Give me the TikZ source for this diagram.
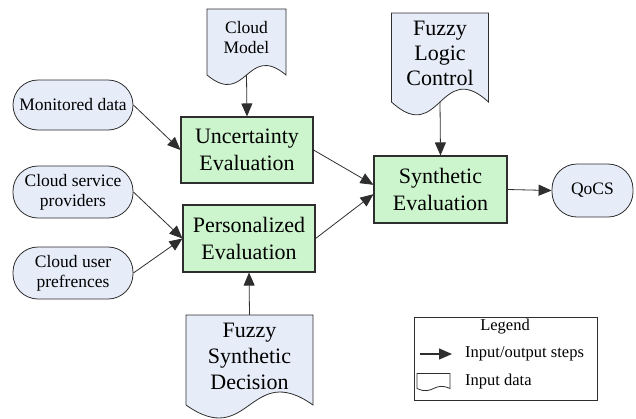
\documentclass[tikz,border=0pt]{standalone}
\usepackage{fontspec}
\setmainfont{Liberation Serif}
\usetikzlibrary{arrows.meta, positioning, calc}
\definecolor{procgreen}{HTML}{CDF5CD}
\definecolor{datablue}{HTML}{E6ECF8}
\definecolor{edgegray}{HTML}{2E2E2E}

% document shape: [shape options] name, x, y (centre of the body), width, height, font, text
\newcommand{\docnode}[8][]{%
  \pgfmathsetmacro{\dcl}{#3-#5/2}\pgfmathsetmacro{\dcr}{#3+#5/2}%
  \pgfmathsetmacro{\dct}{#4-#6/2}\pgfmathsetmacro{\dcb}{#4+#6/2}%
  \pgfmathsetmacro{\dcw}{0.5*#6}%
  \filldraw[docshape, #1] (\dcl,\dcb) -- (\dcl,\dct) -- (\dcr,\dct) -- (\dcr,\dcb)
    .. controls (#3,\dcb-\dcw) and (#3,\dcb+\dcw) .. cycle;
  \node[doctext, minimum width=#5, minimum height=#6] (#2) at (#3,#4) {};
  \node[doctext, font=#7] (#2t) at (#3,#4-4) {#8};
}

\begin{document}
\begin{tikzpicture}[x=1pt, y=-1pt,
  >={Triangle[length=13pt, width=11pt]},
  flow/.style={->, edgegray, line width=0.8pt},
  proc/.style={draw=edgegray, fill=procgreen, line width=1.1pt, align=center,
    font=\fontsize{22}{27}\selectfont, inner sep=0pt},
  term/.style={draw=edgegray, fill=datablue, line width=0.8pt, align=center,
    font=\fontsize{17.5}{20}\selectfont, inner sep=0pt, rounded corners=25pt},
  docshape/.style={draw=edgegray, fill=datablue, line width=0.8pt},
  doctext/.style={align=center, inner sep=0pt}]

\useasboundingbox (0,0) rectangle (636,418);

% =========== INPUT DATA ===========
\node[term, minimum width=120, minimum height=50] (mon) at (73,105) {Monitored data};
\node[term, minimum width=120, minimum height=52] (csp) at (73,192) {Cloud service\\providers};
\node[term, minimum width=120, minimum height=52] (cup) at (73,273) {Cloud user\\prefrences};

\docnode{cm}{246.5}{42}{79}{66}{\fontsize{17.5}{20}\selectfont}{Cloud\\Model}
\docnode{flc}{440}{57.5}{97}{89}{\fontsize{22}{25}\selectfont}{Fuzzy\\Logic\\Control}
\docnode{fsd}{249.5}{360}{127}{90}{\fontsize{22}{26}\selectfont}{Fuzzy\\Synthetic\\Decision}

% =========== EVALUATION STEPS ===========
\node[proc, minimum width=132, minimum height=66] (ue) at (247,150) {Uncertainty\\Evaluation};
\node[proc, minimum width=132, minimum height=67] (pe) at (249,238.5) {Personalized\\Evaluation};
\node[proc, minimum width=133, minimum height=67] (se) at (440.5,189.5) {Synthetic\\Evaluation};

% Output
\node[term, minimum width=81, minimum height=53] (qocs) at (592.5,190.5) {QoCS};

% Connectors
\draw[flow] (cm.south) -- (ue.north);
\draw[flow] (mon.east) -- (ue.west);
\draw[flow] (csp.east) -- (pe.west);
\draw[flow] (cup.east) -- (pe.west);
\draw[flow] (fsd.north) -- (pe.south);
\draw[flow] (ue.east) -- (se.176);
\draw[flow] (pe.east) -- (se.184);
\draw[flow] (flc.south) -- (se.north);
\draw[flow] (se.east) -- (qocs.west);

% =========== LEGEND ===========
\node[draw=edgegray, line width=0.8pt, minimum width=183, minimum height=83, inner sep=0pt]
  (legend) at (505.5,358.5) {};
\node[font=\fontsize{16.5}{20}\selectfont] (legtitle) at (505,327) {Legend};
\coordinate (legfrom) at (420,354);
\coordinate (legto) at (452,354);
\draw[flow, line width=1.2pt] (legfrom) -- (legto);
\node[font=\fontsize{16.5}{20}\selectfont, anchor=west, inner sep=0pt] (legarrow) at (465,354) {Input/output steps};
\docnode[fill=white]{legdoc}{433.5}{381}{33}{15}{\normalsize}{}
\node[font=\fontsize{16.5}{20}\selectfont, anchor=west, inner sep=0pt] (legdata) at (465,382) {Input data};

\end{tikzpicture}
\end{document}
